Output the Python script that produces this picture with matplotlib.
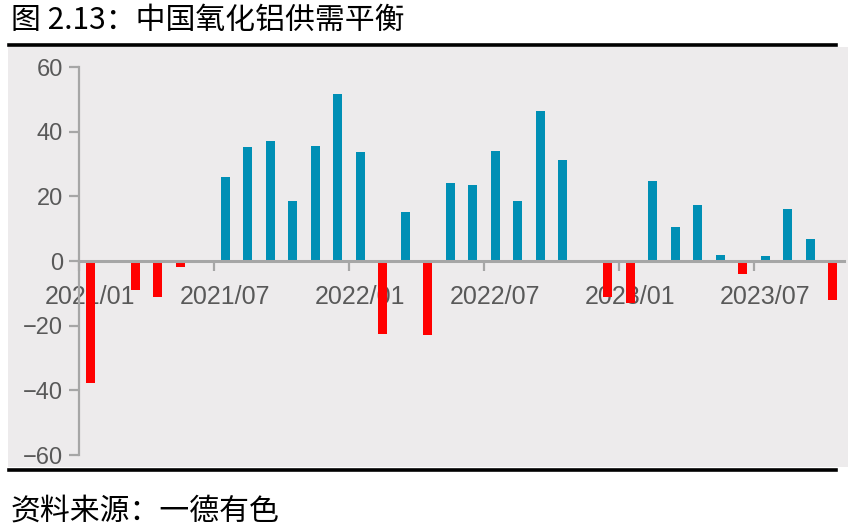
import matplotlib
matplotlib.use("Agg")
import matplotlib.pyplot as plt
from matplotlib.patches import Rectangle
from matplotlib.lines import Line2D
import numpy as np

plt.rcParams['font.family'] = ['Noto Sans CJK SC', 'DejaVu Sans']

# monthly balance, 2021/01 .. 2023/10 (10k t)
months = ['2021/01', '2021/02', '2021/03', '2021/04', '2021/05', '2021/06',
          '2021/07', '2021/08', '2021/09', '2021/10', '2021/11', '2021/12',
          '2022/01', '2022/02', '2022/03', '2022/04', '2022/05', '2022/06',
          '2022/07', '2022/08', '2022/09', '2022/10', '2022/11', '2022/12',
          '2023/01', '2023/02', '2023/03', '2023/04', '2023/05', '2023/06',
          '2023/07', '2023/08', '2023/09', '2023/10']
balance = [-37.6, 0, -8.9, -11.2, -1.9, 0,
           26.1, 35.4, 37.0, 18.6, 35.6, 51.8,
           33.8, -22.7, 15.1, -23.0, 24.1, 23.5,
           34.1, 18.6, 46.5, 31.3, 0, -11.2,
           -12.9, 24.8, 10.6, 17.3, 1.8, -4.0,
           1.5, 16.1, 6.7, -12.2]
label_months = ['2021/01', '2021/07', '2022/01', '2022/07', '2023/01', '2023/07']
yticks = [-60, -40, -20, 0, 20, 40, 60]

W, H = 852, 531
fig = plt.figure(figsize=(W / 100, H / 100), dpi=100)

def fx(px):
    return px / W

def fy(py):
    return 1 - py / H

# grey panel + black rules
fig.add_artist(Rectangle((fx(8), fy(467)), fx(848) - fx(8), fy(47) - fy(467),
                         transform=fig.transFigure, facecolor='#EDEBEC',
                         edgecolor='none', zorder=-1))
fig.add_artist(Line2D([fx(9), fx(836)], [fy(45), fy(45)], transform=fig.transFigure,
                      color='black', lw=2.6))
fig.add_artist(Line2D([fx(9), fx(836)], [fy(470), fy(470)], transform=fig.transFigure,
                      color='black', lw=2.6))

fig.text(fx(11), fy(20), '图 2.13：中国氧化铝供需平衡', fontsize=21.5,
         va='center', ha='left', color='black')
fig.text(fx(11), fy(511), '资料来源：一德有色', fontsize=21.5,
         va='center', ha='left', color='black')

ax = fig.add_axes([fx(79), fy(455), fx(844) - fx(79), fy(67) - fy(455)])
ax.set_facecolor('none')

x = np.arange(len(months))
vals = np.array(balance)
colors = np.where(vals < 0, '#FF0000', '#008FB5')
ax.bar(x, vals, width=0.4, color=colors, zorder=3)

ax.set_xlim(-0.5, len(months) - 0.5)
ax.set_ylim(-60, 60)

grey = '#A6A6A6'
txt = '#595959'
for s in ['top', 'right']:
    ax.spines[s].set_visible(False)
ax.spines['bottom'].set_position(('data', 0))
ax.spines['bottom'].set_color(grey)
ax.spines['bottom'].set_linewidth(2.2)
ax.spines['bottom'].set_zorder(4)
ax.spines['left'].set_color(grey)
ax.spines['left'].set_linewidth(1.6)

ax.set_yticks(yticks)
ax.tick_params(axis='y', direction='out', length=7.5, width=1.6, color=grey,
               labelcolor=txt, labelsize=17, pad=4)
for lab in ax.get_yticklabels():
    lab.set_family('Liberation Sans')

# ticks between categories, labels centred on the month
tick_idx = [months.index(m) for m in label_months]
ax.set_xticks([i - 0.5 for i in tick_idx])
ax.set_xticklabels([])
ax.set_xticks(tick_idx, minor=True)
ax.set_xticklabels(label_months, minor=True, family='Liberation Sans')
ax.tick_params(axis='x', which='major', direction='out', length=7.5, width=1.6, color=grey)
ax.tick_params(axis='x', which='minor', length=0, pad=17, labelcolor=txt, labelsize=18)

fig.savefig('out.png', dpi=100)
